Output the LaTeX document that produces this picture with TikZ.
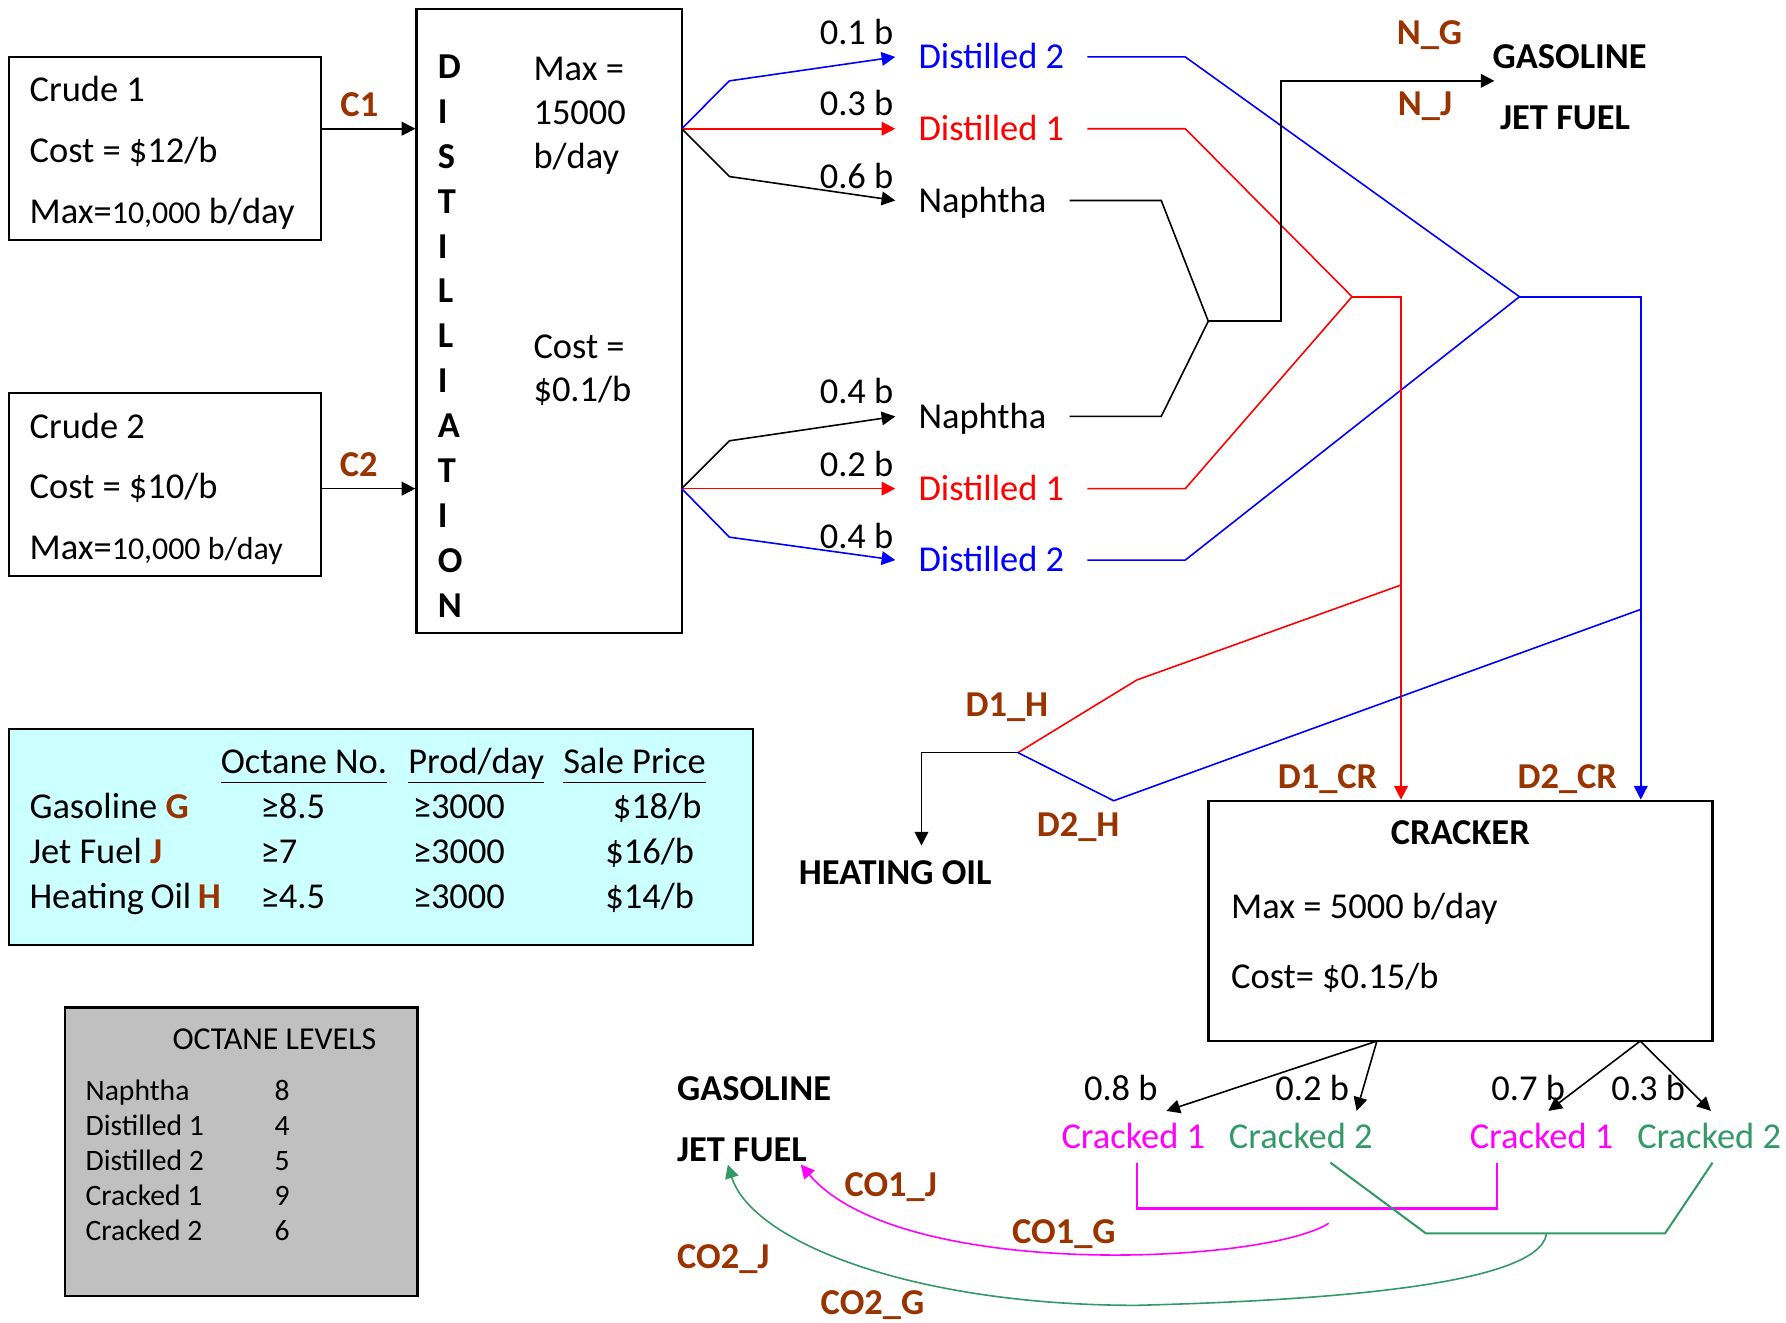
\documentclass[tikz,border=0pt]{standalone}
\usepackage{fontspec}
\setmainfont{Carlito}
\usetikzlibrary{arrows.meta,positioning,calc}
\definecolor{brn}{RGB}{153,51,0}
\definecolor{cgreen}{RGB}{51,153,102}
\definecolor{mgn}{RGB}{255,0,255}
\definecolor{cyanbg}{RGB}{204,255,255}
\definecolor{greybg}{RGB}{192,192,192}

\begin{document}
\begin{tikzpicture}[x=0.5pt, y=-0.5pt,
    box/.style={draw, line width=1pt, inner sep=0pt},
    txt/.style={font=\fontsize{16}{19}\selectfont, text height=13.3pt, text depth=3pt, inner sep=0pt},
    prod/.style={txt, anchor=west, inner xsep=10pt, inner ysep=3pt},
    crk/.style={txt, inner ysep=3pt},
    tag/.style={txt, font=\fontsize{16}{19}\selectfont\bfseries, text=brn},
    hdr/.style={txt, font=\fontsize{16}{19}\selectfont\bfseries, anchor=west},
    flow/.style={-{Triangle[length=6pt,width=6pt]}, line width=0.7pt},
    pipe/.style={line width=0.7pt}
  ]
  \useasboundingbox (0,0) rectangle (1568,1161);

  % crude oils and distillation
  \node[box, minimum width=137pt, minimum height=80.5pt, align=flush left, text width=119pt, inner xsep=9pt, font=\fontsize{16}{26.75}\selectfont] (crude1) at (145,130.3) {\rule{0pt}{15pt}Crude 1\\Cost = \$12/b\\Max={\fontsize{14}{26.75}\selectfont 10,000} b/day};
  \node[box, minimum width=137pt, minimum height=80.3pt, align=flush left, text width=119pt, inner xsep=9pt, font=\fontsize{16}{26.75}\selectfont] (crude2) at (145,425.3) {\rule{0pt}{15pt}Crude 2\\Cost = \$10/b\\Max={\fontsize{14}{26.75}\selectfont 10,000 b/day}};
  \node[box, minimum width=116.4pt, minimum height=273.8pt] (dist) at (482.1,281.7) {};
  \node[anchor=west, align=left, inner sep=0pt, font=\fontsize{16}{19.7}\selectfont\bfseries] (distword) at (384,295) {D\\I\\S\\T\\I\\L\\L\\I\\A\\T\\I\\O\\N};
  \node[anchor=west, align=left, inner sep=0pt, font=\fontsize{16}{19.25}\selectfont] (distmax) at (468,101.5) {Max =\\15000\\b/day};
  \node[anchor=west, align=left, inner sep=0pt, font=\fontsize{16}{19.25}\selectfont] (distcost) at (468,325) {Cost =\\\$0.1/b};

  \coordinate (split1) at (598.5,113);
  \coordinate (split2) at (598.5,429);
  \draw[flow] (crude1.east |- split1) -- (dist.west |- split1);
  \draw[flow] (crude2.east |- split2) -- (dist.west |- split2);
  \node[tag] (c1) at (315.5,92) {C1};
  \node[tag] (c2) at (315,408) {C2};

  % distillation products
  \node[prod, text=blue] (d2top) at (786,50) {Distilled 2};
  \node[prod, text=red] (d1top) at (786,113) {Distilled 1};
  \node[prod] (naptop) at (786,176) {Naphtha};
  \node[prod] (napbot) at (786,365.6) {Naphtha};
  \node[prod, text=red] (d1bot) at (786,429) {Distilled 1};
  \node[prod, text=blue] (d2bot) at (786,491.7) {Distilled 2};

  \node[txt] (y1) at (752,28.7) {0.1 b};
  \node[txt] (y2) at (752,91.4) {0.3 b};
  \node[txt] (y3) at (752,155) {0.6 b};
  \node[txt] (y4) at (752,344) {0.4 b};
  \node[txt] (y5) at (752,408) {0.2 b};
  \node[txt] (y6) at (752,471) {0.4 b};

  \draw[flow, blue] (split1) -- (640.4,71) -- (d2top.west);
  \draw[flow, red] (split1) -- (d1top.west);
  \draw[flow] (split1) -- (640.4,155) -- (naptop.west);
  \draw[flow] (split2) -- (640.4,387) -- (napbot.west);
  \draw[flow, red] (split2) -- (d1bot.west);
  \draw[flow, blue] (split2) -- (640.4,471.6) -- (d2bot.west);

  % mixing
  \coordinate (mixN) at (1060.8,282);
  \coordinate (mixD1) at (1187,260.5);
  \coordinate (mixD2) at (1334,260.5);
  \draw[pipe] (naptop.east) -- (1019.5,176) -- (mixN);
  \draw[pipe] (napbot.east) -- (1019.5,365.6) -- (mixN);
  \draw[pipe, red] (d1top.east) -- (1040.6,113) -- (mixD1);
  \draw[pipe, red] (d1bot.east) -- (1040.6,429) -- (mixD1);
  \draw[pipe, blue] (d2top.east) -- (1040.6,50) -- (mixD2);
  \draw[pipe, blue] (d2bot.east) -- (1040.6,491.7) -- (mixD2);

  \coordinate (napout) at (1312,71);
  \draw[flow] (mixN) -- (1124.7,282) -- (1124.7,71) -- (napout);
  \node[hdr] (gas1) at (1310,50) {GASOLINE};
  \node[hdr] (jet1) at (1316.6,103) {JET FUEL};
  \node[tag] (ng) at (1255,28.7) {N\_G};
  \node[tag] (nj) at (1251,91.4) {N\_J};

  % cracker
  \node[box, minimum width=221.2pt, minimum height=105.5pt] (cracker) at (1282.2,808.5) {};
  \node[hdr, anchor=center] (crackttl) at (1282,731.5) {CRACKER};
  \node[txt, anchor=west] (crackmax) at (1080.5,796) {Max = 5000 b/day};
  \node[txt, anchor=west] (crackcost) at (1080.5,857.5) {Cost= \$0.15/b};

  \coordinate (redcol) at (1230,260.5);
  \coordinate (bluecol) at (1440.5,260.5);
  \coordinate (redtap) at (1230,513.6);
  \coordinate (bluetap) at (1440.5,535);
  \coordinate (hmix) at (893.7,660.8);
  \coordinate (hbend) at (809,660.8);
  \draw[flow, red] (mixD1) -- (redcol) -- (redcol |- cracker.north);
  \draw[flow, blue] (mixD2) -- (bluecol) -- (bluecol |- cracker.north);
  \draw[pipe, red] (redtap) -- (998,597) -- (hmix);
  \draw[pipe, blue] (bluetap) -- (977.8,703) -- (hmix);

  % heating oil
  \node[hdr, anchor=center, inner ysep=3.5pt] (heat) at (786,766) {HEATING OIL};
  \draw[flow] (hmix) -- (hbend) -- (hbend |- heat.north);
  \node[tag] (d1h) at (884,619) {D1\_H};
  \node[tag] (d2h) at (946.5,724) {D2\_H};
  \node[tag] (d1cr) at (1165.5,682) {D1\_CR};
  \node[tag] (d2cr) at (1376,682) {D2\_CR};

  % cracker products
  \coordinate (crL) at (1208.8,914);
  \coordinate (crR) at (1440,914);
  \node[crk, text=mgn] (ck1a) at (995,998) {Cracked 1};
  \node[crk, text=cgreen] (ck2a) at (1142,998) {Cracked 2};
  \node[crk, text=mgn] (ck1b) at (1353.4,998) {Cracked 1};
  \node[crk, text=cgreen] (ck2b) at (1500.5,998) {Cracked 2};
  \node[txt] (y7) at (984,955.5) {0.8 b};
  \node[txt] (y8) at (1152,955.5) {0.2 b};
  \node[txt] (y9) at (1341.6,955.5) {0.7 b};
  \node[txt] (y10) at (1447,955.5) {0.3 b};
  \draw[flow] (crL) -- ([xshift=14.5pt]ck1a.north);
  \draw[flow] (crL) -- ([xshift=24.5pt]ck2a.north);
  \draw[flow] (crR) -- ([xshift=3pt]ck1b.north);
  \draw[flow] (crR) -- ([xshift=0.75pt]ck2b.north);

  \node[hdr] (gas2) at (594,955.5) {GASOLINE};
  \node[hdr] (jet2) at (594,1009.7) {JET FUEL};

  \coordinate (m1) at (998,1061);
  \coordinate (m2) at (1314,1061);
  \coordinate (g1) at (1251.8,1082.8);
  \coordinate (g2) at (1461.8,1082.8);
  \draw[mgn, line width=1pt] (ck1a.south -| m1) -- (m1) -- (m2) -- (ck1b.south -| m2);
  \draw[cgreen, line width=0.9pt] ([xshift=13pt]ck2a.south) -- (g1) -- (g2) -- ([xshift=1.5pt]ck2b.south);

  \coordinate (co1src) at (1166.5,1074);
  \coordinate (co2src) at (1357.7,1083.5);
  \draw[flow, mgn] (co1src) .. controls (1110,1110) and (790,1125) .. ([xshift=54.5pt,yshift=2pt]jet2.south west);
  \draw[flow, cgreen] (co2src) .. controls (1350,1130) and (1150,1142) .. (998,1146) .. controls (800,1146) and (660,1090) .. ([xshift=22.5pt,yshift=2pt]jet2.south west);
  \node[tag] (co1j) at (782,1040.4) {CO1\_J};
  \node[tag] (co1g) at (934,1081.4) {CO1\_G};
  \node[tag] (co2j) at (635,1103) {CO2\_J};
  \node[tag] (co2g) at (766,1144) {CO2\_G};

  % product specs
  \node[box, fill=cyanbg, minimum width=326.5pt, minimum height=94.85pt] (spec) at (334.5,734.65) {};
  \node[anchor=base west, inner sep=0pt, font=\fontsize{16}{19.7}\selectfont] (spectab) at (25.5,679) {\begin{tabular}[t]{@{}p{84pt}@{}p{82.3pt}@{}p{68pt}@{}p{64pt}@{}}
    & \underline{Octane No.\vphantom{y}} & \underline{Prod/day} & \underline{Sale Price\vphantom{y}}\\
    Gasoline \textcolor{brn}{\textbf{G}} & \hspace{17.5pt}≥8.5 & \hspace{2pt}≥3000 & \hspace{21.75pt}\$18/b\\
    Jet Fuel \textcolor{brn}{\textbf{J}} & \hspace{17.5pt}≥7 & \hspace{2pt}≥3000 & \hspace{18.5pt}\$16/b\\
    Heating Oil \textcolor{brn}{\textbf{H}} & \hspace{17.5pt}≥4.5 & \hspace{2pt}≥3000 & \hspace{18.5pt}\$14/b
  \end{tabular}};

  % octane levels
  \node[box, fill=greybg, minimum width=154.75pt, minimum height=126.55pt] (octbox) at (211.75,1011.05) {};
  \node[inner sep=0pt, font=\fontsize{14}{16}\selectfont] (octttl) at (241,912) {OCTANE LEVELS};
  \node[anchor=base west, inner sep=0pt, font=\fontsize{13}{15.4}\selectfont] (octtab) at (74.8,966.2) {\begin{tabular}[t]{@{}p{83pt}@{}c@{}}
    Naphtha & 8\\
    Distilled 1 & 4\\
    Distilled 2 & 5\\
    Cracked 1 & 9\\
    Cracked 2 & 6
  \end{tabular}};
\end{tikzpicture}
\end{document}
